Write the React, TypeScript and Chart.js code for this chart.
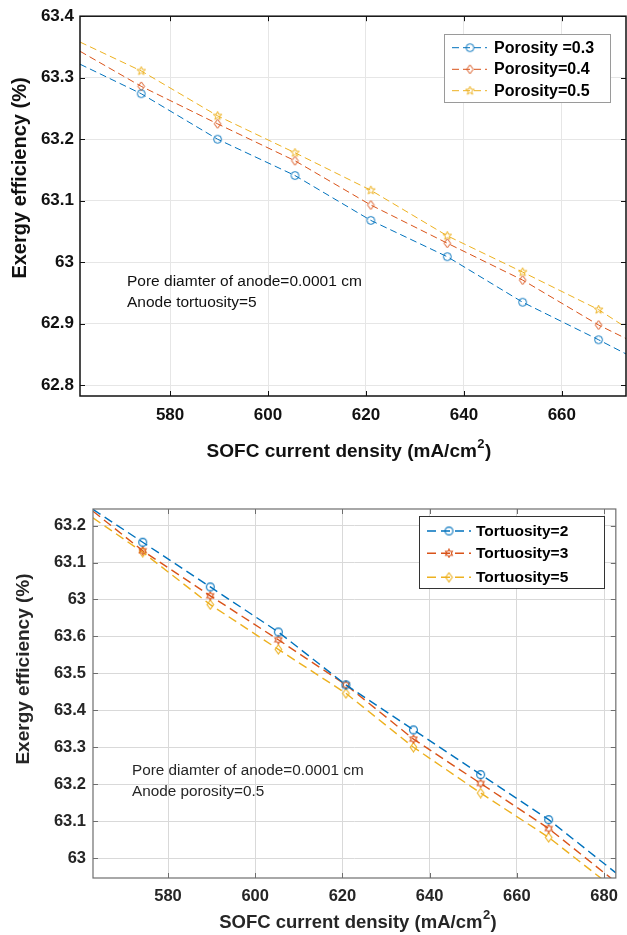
import React, { useEffect, useRef } from "react";
import { Chart, registerables } from "chart.js";

Chart.register(...registerables);

const FONT = '"Liberation Sans", Arial, Helvetica, sans-serif';

// ---- Upper panel: effect of anode porosity ----
// First and last entries are where the dashed trend lines meet the frame (no marker there).
const topCurrent = [561.6, 574.1, 589.7, 605.5, 621.0, 636.6, 652.0, 667.5, 673.1];
const porosity03 = [63.322, 63.274, 63.2, 63.141, 63.068, 63.009, 62.935, 62.874, 62.851];
const porosity04 = [63.343, 63.286, 63.225, 63.165, 63.093, 63.031, 62.971, 62.898, 62.876];
const porosity05 = [63.358, 63.311, 63.238, 63.178, 63.117, 63.043, 62.984, 62.923, 62.894];
const topXTicks = [580, 600, 620, 640, 660];
const topYTicks = [62.8, 62.9, 63.0, 63.1, 63.2, 63.3, 63.4];
const topYLabels = ["62.8", "62.9", "63", "63.1", "63.2", "63.3", "63.4"];
const topSeriesNames = ["Porosity =0.3", "Porosity=0.4", "Porosity=0.5"];
const topNotes = ["Pore diamter of anode=0.0001 cm", "Anode tortuosity=5"];

// ---- Lower panel: effect of anode tortuosity ----
const bottomCurrent = [562.8, 574.2, 589.7, 605.3, 620.8, 636.3, 651.7, 667.3, 682.7];
const tortuosity2 = [63.944, 63.855, 63.734, 63.612, 63.469, 63.347, 63.226, 63.104, 62.96];
const tortuosity3 = [63.939, 63.832, 63.71, 63.591, 63.469, 63.322, 63.202, 63.08, 62.935];
const tortuosity5 = [63.921, 63.828, 63.686, 63.565, 63.446, 63.3, 63.176, 63.056, 62.914];
const bottomXTicks = [580, 600, 620, 640, 660, 680];
const bottomYTicks = [63.0, 63.1, 63.2, 63.3, 63.4, 63.5, 63.6, 63.7, 63.8, 63.9];
const bottomYLabels = ["63", "63.1", "63.2", "63.3", "63.4", "63.5", "63.6", "63", "63.1", "63.2"];
const bottomSeriesNames = ["Tortuosity=2", "Tortuosity=3", "Tortuosity=5"];
const bottomNotes = ["Pore diamter of anode=0.0001 cm", "Anode porosity=0.5"];

const BLUE = "rgb(0,114,189)";
const ORANGE = "rgb(217,83,25)";
const YELLOW = "rgb(237,177,32)";

type MarkerKind = "circle" | "diamond" | "star5" | "hexagram";

function markerCanvas(kind: MarkerKind, color: string, size: number, lw: number): HTMLCanvasElement {
  const c = document.createElement("canvas");
  c.width = size;
  c.height = size;
  const g = c.getContext("2d")!;
  const m = size / 2;
  g.strokeStyle = color;
  g.lineWidth = lw;
  g.beginPath();
  if (kind === "circle") {
    g.arc(m, m, m - 1.6, 0, Math.PI * 2);
  } else if (kind === "diamond") {
    const hw = m - 2.2;
    const hh = m - 1;
    g.moveTo(m, m - hh);
    g.lineTo(m + hw, m);
    g.lineTo(m, m + hh);
    g.lineTo(m - hw, m);
    g.closePath();
  } else {
    const n = kind === "star5" ? 5 : 6;
    const outer = m - 1;
    const inner = kind === "star5" ? outer * 0.42 : outer * 0.58;
    for (let i = 0; i < n * 2; i++) {
      const r = i % 2 === 0 ? outer : inner;
      const a = -Math.PI / 2 + (i * Math.PI) / n;
      const px = m + r * Math.cos(a);
      const py = m + r * Math.sin(a);
      if (i === 0) g.moveTo(px, py);
      else g.lineTo(px, py);
    }
    g.closePath();
  }
  g.stroke();
  return c;
}

interface SeriesSpec {
  name: string;
  values: number[];
  color: string;
  marker: HTMLCanvasElement;
}

interface PanelSpec {
  width: number;
  height: number;
  area: { left: number; top: number; right: number; bottom: number };
  xs: number[];
  series: SeriesSpec[];
  xMin: number;
  xMax: number;
  yMin: number;
  yMax: number;
  xTicks: number[];
  yTicks: number[];
  yLabels: string[];
  tickFont: number;
  tickColor: string;
  xTickPad: number;
  yTickPad: number;
  gridColor: string;
  frameColor: string;
  frameWidth: number;
  tickLen: number;
  lineWidth: number;
  dash: number[];
  yTitle: { x: number; y: number; size: number };
  xTitle: { x: number; y: number; size: number };
  titleColor: string;
  notes: string[];
  notesPos: { x: number; y: number; gap: number; size: number };
  legend: {
    left: number;
    top: number;
    right: number;
    bottom: number;
    rows: number[];
    lineFrom: number;
    lineTo: number;
    markerX: number;
    textX: number;
    size: number;
    border: string;
  };
}

function drawUnitTitle(ctx: CanvasRenderingContext2D, cx: number, cy: number, size: number, color: string) {
  const main = "SOFC current density (mA/cm";
  const sup = "2";
  const tail = ")";
  const big = `bold ${size}px ${FONT}`;
  const small = `bold ${Math.round(size * 0.68)}px ${FONT}`;
  ctx.font = big;
  const w1 = ctx.measureText(main).width;
  const w3 = ctx.measureText(tail).width;
  ctx.font = small;
  const w2 = ctx.measureText(sup).width;
  let x = cx - (w1 + w2 + w3 + 1) / 2;
  ctx.fillStyle = color;
  ctx.textAlign = "left";
  ctx.textBaseline = "middle";
  ctx.font = big;
  ctx.fillText(main, x, cy);
  x += w1;
  ctx.font = small;
  ctx.fillText(sup, x + 0.5, cy - size * 0.4);
  x += w2 + 1;
  ctx.font = big;
  ctx.fillText(tail, x, cy);
}

function buildChart(canvas: HTMLCanvasElement, p: PanelSpec): Chart {
  const last = p.xs.length - 1;

  const framePlugin = {
    id: "frameTicks",
    afterDatasetsDraw(chart: Chart) {
      const { ctx, chartArea: a } = chart;
      const sx = chart.scales.x;
      const sy = chart.scales.y;
      ctx.save();
      ctx.strokeStyle = p.frameColor;
      ctx.lineWidth = p.frameWidth;
      ctx.strokeRect(a.left, a.top, a.right - a.left, a.bottom - a.top);
      ctx.lineWidth = 1;
      ctx.beginPath();
      for (const v of p.xTicks) {
        const x = Math.round(sx.getPixelForValue(v)) + 0.5;
        ctx.moveTo(x, a.bottom);
        ctx.lineTo(x, a.bottom - p.tickLen);
        ctx.moveTo(x, a.top);
        ctx.lineTo(x, a.top + p.tickLen);
      }
      for (const v of p.yTicks) {
        const y = Math.round(sy.getPixelForValue(v)) + 0.5;
        ctx.moveTo(a.left, y);
        ctx.lineTo(a.left + p.tickLen, y);
        ctx.moveTo(a.right, y);
        ctx.lineTo(a.right - p.tickLen, y);
      }
      ctx.stroke();
      ctx.restore();
    },
  };

  const textPlugin = {
    id: "panelText",
    afterDraw(chart: Chart) {
      const ctx = chart.ctx;
      ctx.save();
      // axis titles
      ctx.fillStyle = p.titleColor;
      ctx.font = `bold ${p.yTitle.size}px ${FONT}`;
      ctx.textAlign = "center";
      ctx.textBaseline = "middle";
      ctx.translate(p.yTitle.x, p.yTitle.y);
      ctx.rotate(-Math.PI / 2);
      ctx.fillText("Exergy efficiency (%)", 0, 0);
      ctx.setTransform(1, 0, 0, 1, 0, 0);
      drawUnitTitle(ctx, p.xTitle.x, p.xTitle.y, p.xTitle.size, p.titleColor);

      // parameter notes
      ctx.font = `${p.notesPos.size}px ${FONT}`;
      ctx.textAlign = "left";
      ctx.textBaseline = "middle";
      ctx.fillStyle = p.titleColor;
      p.notes.forEach((t, i) => ctx.fillText(t, p.notesPos.x, p.notesPos.y + i * p.notesPos.gap));

      // legend
      const L = p.legend;
      ctx.fillStyle = "#ffffff";
      ctx.fillRect(L.left, L.top, L.right - L.left, L.bottom - L.top);
      ctx.strokeStyle = L.border;
      ctx.lineWidth = 1;
      ctx.strokeRect(L.left + 0.5, L.top + 0.5, L.right - L.left - 1, L.bottom - L.top - 1);
      p.series.forEach((s, i) => {
        const y = L.rows[i];
        ctx.strokeStyle = s.color;
        ctx.lineWidth = p.lineWidth;
        ctx.setLineDash(p.dash);
        ctx.beginPath();
        ctx.moveTo(L.lineFrom, y);
        ctx.lineTo(L.lineTo, y);
        ctx.stroke();
        ctx.setLineDash([]);
        ctx.drawImage(s.marker, L.markerX - s.marker.width / 2, y - s.marker.height / 2);
        ctx.fillStyle = "#000000";
        ctx.font = `bold ${L.size}px ${FONT}`;
        ctx.textAlign = "left";
        ctx.textBaseline = "middle";
        ctx.fillText(s.name, L.textX, y + 0.5);
      });
      ctx.restore();
    },
  };

  return new Chart(canvas, {
    type: "line",
    data: {
      datasets: p.series.map((s) => ({
        label: s.name,
        data: p.xs.map((x, i) => ({ x, y: s.values[i] })),
        borderColor: s.color,
        backgroundColor: s.color,
        borderWidth: p.lineWidth,
        borderDash: p.dash,
        fill: false,
        tension: 0,
        clip: 0,
        pointStyle: s.marker as any,
        pointRadius: (c: any) => (c.dataIndex === 0 || c.dataIndex === last ? 0 : 4),
        pointHoverRadius: 0,
      })),
    },
    options: {
      responsive: false,
      animation: false,
      devicePixelRatio: 1,
      events: [],
      layout: {
        padding: {
          left: 0,
          top: p.area.top,
          right: p.width - p.area.right,
          bottom: 0,
        },
      },
      plugins: {
        legend: { display: false },
        tooltip: { enabled: false },
        title: { display: false },
      },
      scales: {
        x: {
          type: "linear",
          min: p.xMin,
          max: p.xMax,
          afterFit: (s: any) => {
            s.height = p.height - p.area.bottom;
          },
          afterBuildTicks: (s: any) => {
            s.ticks = p.xTicks.map((v) => ({ value: v }));
          },
          ticks: {
            callback: (v: any) => String(v),
            font: { family: FONT, size: p.tickFont, weight: "bold" },
            color: p.tickColor,
            padding: p.xTickPad,
            maxRotation: 0,
          },
          grid: { color: p.gridColor, lineWidth: 1, drawTicks: false },
          border: { display: false },
        },
        y: {
          type: "linear",
          min: p.yMin,
          max: p.yMax,
          afterFit: (s: any) => {
            s.width = p.area.left;
          },
          afterBuildTicks: (s: any) => {
            s.ticks = p.yTicks.map((v) => ({ value: v }));
          },
          ticks: {
            callback: (_v: any, i: number) => p.yLabels[i],
            font: { family: FONT, size: p.tickFont, weight: "bold" },
            color: p.tickColor,
            padding: p.yTickPad,
          },
          grid: { color: p.gridColor, lineWidth: 1, drawTicks: false },
          border: { display: false },
        },
      },
    } as any,
    plugins: [framePlugin, textPlugin],
  });
}

const TOP_W = 627;
const TOP_H = 470;
const BOT_W = 627;
const BOT_H = 465;

export default function App() {
  const topRef = useRef<HTMLCanvasElement>(null);
  const bottomRef = useRef<HTMLCanvasElement>(null);

  useEffect(() => {
    const topSpec: PanelSpec = {
      width: TOP_W,
      height: TOP_H,
      area: { left: 80, top: 13, right: 626, bottom: 396 },
      xs: topCurrent,
      series: [
        { name: topSeriesNames[0], values: porosity03, color: BLUE, marker: markerCanvas("circle", BLUE, 11, 1) },
        { name: topSeriesNames[1], values: porosity04, color: ORANGE, marker: markerCanvas("diamond", ORANGE, 11, 1) },
        { name: topSeriesNames[2], values: porosity05, color: YELLOW, marker: markerCanvas("star5", YELLOW, 11, 1) },
      ],
      xMin: 561.6,
      xMax: 673.1,
      yMin: 62.7826,
      yMax: 63.4,
      xTicks: topXTicks,
      yTicks: topYTicks,
      yLabels: topYLabels,
      tickFont: 17,
      tickColor: "#111111",
      xTickPad: 9,
      yTickPad: 6,
      gridColor: "#e6e6e6",
      frameColor: "#111111",
      frameWidth: 1.5,
      tickLen: 5,
      lineWidth: 1,
      dash: [7, 4],
      yTitle: { x: 20, y: 178, size: 20 },
      xTitle: { x: 349, y: 452, size: 19 },
      titleColor: "#111111",
      notes: topNotes,
      notesPos: { x: 127, y: 282, gap: 21, size: 15.5 },
      legend: {
        left: 444,
        top: 34,
        right: 611,
        bottom: 103,
        rows: [47.7, 69.3, 90.7],
        lineFrom: 452,
        lineTo: 487,
        markerX: 470,
        textX: 494,
        size: 16,
        border: "#9a9a9a",
      },
    };

    const bottomSpec: PanelSpec = {
      width: BOT_W,
      height: BOT_H,
      area: { left: 93, top: 39, right: 619, bottom: 408 },
      xs: bottomCurrent,
      series: [
        { name: bottomSeriesNames[0], values: tortuosity2, color: BLUE, marker: markerCanvas("circle", BLUE, 11, 1.1) },
        { name: bottomSeriesNames[1], values: tortuosity3, color: ORANGE, marker: markerCanvas("hexagram", ORANGE, 10, 1.1) },
        { name: bottomSeriesNames[2], values: tortuosity5, color: YELLOW, marker: markerCanvas("diamond", YELLOW, 11, 1.1) },
      ],
      xMin: 562.8,
      xMax: 682.7,
      yMin: 62.946,
      yMax: 63.945,
      xTicks: bottomXTicks,
      yTicks: bottomYTicks,
      yLabels: bottomYLabels,
      tickFont: 16.5,
      tickColor: "#262626",
      xTickPad: 9,
      yTickPad: 7,
      gridColor: "#d9d9d9",
      frameColor: "#6e6e6e",
      frameWidth: 1.2,
      tickLen: 5,
      lineWidth: 1.4,
      dash: [9, 5],
      yTitle: { x: 24, y: 199, size: 19 },
      xTitle: { x: 358, y: 453, size: 18.5 },
      titleColor: "#262626",
      notes: bottomNotes,
      notesPos: { x: 132, y: 301, gap: 20.7, size: 15.3 },
      legend: {
        left: 419,
        top: 46,
        right: 605,
        bottom: 119,
        rows: [61, 83.3, 107.3],
        lineFrom: 427,
        lineTo: 471,
        markerX: 449,
        textX: 476,
        size: 15.5,
        border: "#333333",
      },
    };

    const c1 = buildChart(topRef.current!, topSpec);
    const c2 = buildChart(bottomRef.current!, bottomSpec);
    return () => {
      c1.destroy();
      c2.destroy();
    };
  }, []);

  return (
    <div style={{ position: "absolute", left: 0, top: 0, width: 627, height: 935, background: "#ffffff" }}>
      <canvas
        ref={topRef}
        width={TOP_W}
        height={TOP_H}
        style={{ position: "absolute", left: 0, top: 0, width: TOP_W, height: TOP_H, display: "block" }}
      />
      <canvas
        ref={bottomRef}
        width={BOT_W}
        height={BOT_H}
        style={{
          position: "absolute",
          left: 0,
          top: TOP_H,
          width: BOT_W,
          height: BOT_H,
          display: "block",
          filter: "blur(0.4px)",
        }}
      />
    </div>
  );
}
